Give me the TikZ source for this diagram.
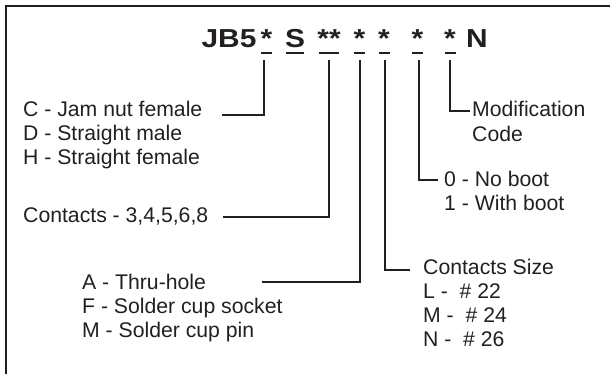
\documentclass[tikz,border=0pt]{standalone}
\usepackage{fontspec}
\setmainfont{Liberation Sans}
\usepackage{graphicx}
\usetikzlibrary{calc}
\definecolor{ink}{HTML}{231F20}
\newcommand\hstretch[1]{\scalebox{1.15}[1]{#1}}
\begin{document}
\begin{tikzpicture}[x=1pt,y=-1pt,
  lbl/.style={anchor=base west,inner sep=0pt,font=\fontsize{21.2}{24}\selectfont,text=ink},
  hdr/.style={anchor=base,inner sep=0pt,font=\fontsize{26}{30}\selectfont\bfseries,text=ink},
  conn/.style={draw=ink,line width=1.5pt},
  uline/.style={draw=ink,line width=2pt},
  frame/.style={draw=ink,line width=2pt}]
\useasboundingbox (0,0) rectangle (610,374);
% frame
\draw[frame] (6,374) -- (6,6) -- (610,6);
% header
\node[hdr] (jb5) at (229,47.5) {\hstretch{JB5}};
\node[hdr] (h1) at (266.5,47.5) {\hstretch{*}};
\node[hdr] (h2) at (295,47.5) {\hstretch{S}};
\node[hdr] (h3) at (329,47.5) {\hstretch{**}};
\node[hdr] (h4) at (359.5,47.5) {\hstretch{*}};
\node[hdr] (h5) at (384,47.5) {\hstretch{*}};
\node[hdr] (h6) at (417.5,47.5) {\hstretch{*}};
\node[hdr] (h7) at (450,47.5) {\hstretch{*}};
\node[hdr] (hn) at (477,47.5) {\hstretch{N}};
% underlines
\draw[uline] ($(h1.base)+(-5.5,5.2)$) -- ++(11,0);
\draw[uline] ($(h2.base)+(-9,5.2)$) -- ++(18,0);
\draw[uline] ($(h3.base)+(-10,5.2)$) -- ++(20,0);
\draw[uline] ($(h4.base)+(-5.5,5.2)$) -- ++(11,0);
\draw[uline] ($(h5.base)+(-5.5,5.2)$) -- ++(11,0);
\draw[uline] ($(h6.base)+(-5.5,5.2)$) -- ++(11,0);
\draw[uline] ($(h7.base)+(-5.5,5.2)$) -- ++(11,0);
% labels
\node[lbl] (lc) at (23,117) {C - Jam nut female};
\node[lbl] (ld) at (23,141) {D - Straight male};
\node[lbl] (lh) at (23,165) {H - Straight female};
\node[lbl] (lcont) at (23,222.5) {Contacts - 3,4,5,6,8};
\node[lbl] (la) at (82,289) {A - Thru-hole};
\node[lbl] (lf) at (82,313) {F - Solder cup socket};
\node[lbl] (lm) at (82,337) {M - Solder cup pin};
\node[lbl] (ls) at (423,274) {Contacts Size};
\node[lbl] (ll) at (423,298) {L -\ \ \# 22};
\node[lbl] (lm2) at (423,322) {M -\ \ \# 24};
\node[lbl] (ln) at (423,346) {N -\ \ \# 26};
\node[lbl] (l0) at (444,187) {0 - No boot};
\node[lbl] (l1) at (444,211) {1 - With boot};
\node[lbl] (lmod) at (472,117) {Modification};
\node[lbl] (lcode) at (472,141.5) {Code};
% connector coordinates
\coordinate (t1) at (264,60);   \coordinate (c1) at (222,115);
\coordinate (t2) at (329,60);   \coordinate (c2) at (223,217);
\coordinate (t3) at (360,60);   \coordinate (c3) at (262,282);
\coordinate (t4) at (385,60);   \coordinate (c4) at (410,270);
\coordinate (t5) at (419,60);   \coordinate (c5) at (438,180);
\coordinate (t6) at (450,60);   \coordinate (c6) at (470,111);
\draw[conn] (t1) |- (c1);
\draw[conn] (t2) |- (c2);
\draw[conn] (t3) |- (c3);
\draw[conn] (t4) |- (c4);
\draw[conn] (t5) |- (c5);
\draw[conn] (t6) |- (c6);
\end{tikzpicture}
\end{document}
